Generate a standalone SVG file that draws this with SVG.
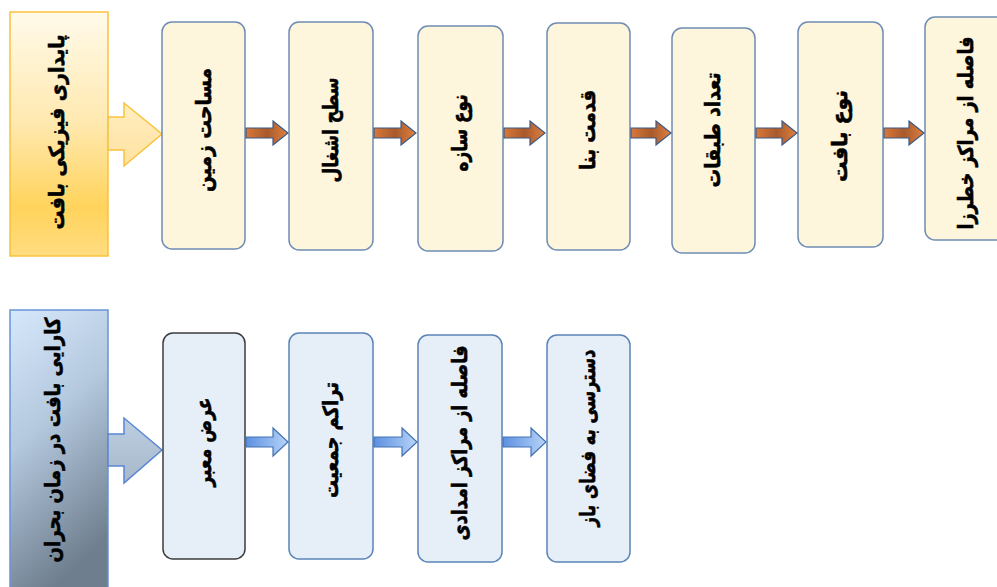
<svg xmlns="http://www.w3.org/2000/svg" width="997" height="587" viewBox="0 0 997 587">
<defs>
<linearGradient id="gY" x1="0" y1="0" x2="0" y2="1">
<stop offset="0" stop-color="#fffaea"/>
<stop offset="0.45" stop-color="#ffe9b0"/>
<stop offset="0.8" stop-color="#ffd35c"/>
<stop offset="1" stop-color="#ffdc80"/>
</linearGradient>
<linearGradient id="gYA" x1="0" y1="0" x2="0" y2="1">
<stop offset="0" stop-color="#ffeec0"/>
<stop offset="1" stop-color="#ffe2a0"/>
</linearGradient>
<linearGradient id="gB" x1="0" y1="0" x2="0.3" y2="1">
<stop offset="0" stop-color="#d6e8fb"/>
<stop offset="0.45" stop-color="#b4c8de"/>
<stop offset="1" stop-color="#6e7e8e"/>
</linearGradient>
<linearGradient id="gBA" x1="0" y1="0" x2="0" y2="1">
<stop offset="0" stop-color="#bccee2"/>
<stop offset="1" stop-color="#a8b8ca"/>
</linearGradient>
<linearGradient id="gO" x1="0" y1="0" x2="1" y2="0">
<stop offset="0" stop-color="#d9783a"/>
<stop offset="0.5" stop-color="#a85a2c"/>
<stop offset="1" stop-color="#e08040"/>
</linearGradient>
<linearGradient id="gL" x1="0" y1="0" x2="1" y2="0">
<stop offset="0" stop-color="#5c90e0"/>
<stop offset="1" stop-color="#b8d4f8"/>
</linearGradient>
</defs>
<style>
.t{font-family:"DejaVu Sans",sans-serif;font-weight:bold;font-size:21px;fill:#000;stroke:#000;stroke-width:0.6;text-anchor:middle;dominant-baseline:central}
.n1 rect{fill:#fdf5dc;stroke:#6f8db4;stroke-width:1.5}
.n2 rect{fill:#e6eef8;stroke:#5a84b8;stroke-width:1.5}
.ao{fill:url(#gO);stroke:#3d5a86;stroke-width:1.2}
.ab{fill:url(#gL);stroke:#4472b4;stroke-width:1.2}
</style>
<rect width="997" height="587" fill="#ffffff"/>

<g id="h1">
<rect x="10" y="12" width="98" height="244" fill="url(#gY)" stroke="#f9c23c" stroke-width="1.5"/>
<path d="M108,117 H124 V103 L162,134 L124,166 V150 H108 Z" fill="url(#gYA)" stroke="#f9c23c" stroke-width="1.5"/>
<text class="t" transform="translate(57,132) rotate(-90)" textLength="195" lengthAdjust="spacingAndGlyphs">پایداری فیزیکی بافت</text>
</g>

<g id="a1" class="n1"><rect x="162" y="22" width="83" height="227" rx="10"/>
<text class="t" transform="translate(204,130) rotate(-90)" textLength="124" lengthAdjust="spacingAndGlyphs">مساحت زمین</text></g>
<g id="a2" class="n1"><rect x="289" y="22" width="84" height="228" rx="10"/>
<text class="t" transform="translate(331,130) rotate(-90)" textLength="105" lengthAdjust="spacingAndGlyphs">سطح اشغال</text></g>
<g id="a3" class="n1"><rect x="418" y="26" width="85" height="225" rx="10"/>
<text class="t" transform="translate(460,133) rotate(-90)" textLength="77" lengthAdjust="spacingAndGlyphs">نوع سازه</text></g>
<g id="a4" class="n1"><rect x="547" y="23" width="83" height="227" rx="10"/>
<text class="t" transform="translate(588,130) rotate(-90)" textLength="80" lengthAdjust="spacingAndGlyphs">قدمت بنا</text></g>
<g id="a5" class="n1"><rect x="672" y="28" width="83" height="225" rx="10"/>
<text class="t" transform="translate(713,130) rotate(-90)" textLength="115" lengthAdjust="spacingAndGlyphs">تعداد طبقات</text></g>
<g id="a6" class="n1"><rect x="798" y="22" width="85" height="225" rx="10"/>
<text class="t" transform="translate(840,136) rotate(-90)" textLength="92" lengthAdjust="spacingAndGlyphs">نوع بافت</text></g>
<g id="a7" class="n1"><rect x="925" y="17" width="90" height="223" rx="10"/>
<text class="t" transform="translate(966,133) rotate(-90)" textLength="193" lengthAdjust="spacingAndGlyphs">فاصله از مراکز خطرزا</text></g>

<g id="h2">
<rect x="10" y="310" width="98" height="290" fill="url(#gB)" stroke="#6a92d8" stroke-width="1.5"/>
<path d="M108,434 H124 V418 L162,450 L124,483 V466 H108 Z" fill="url(#gBA)" stroke="#5a86d4" stroke-width="1.5"/>
<text class="t" transform="translate(53,440) rotate(-90)" textLength="245" lengthAdjust="spacingAndGlyphs">کارایی بافت در زمان بحران</text>
</g>

<g id="b1" class="n2"><rect x="163" y="333" width="82" height="226" rx="10" style="stroke:#3c3c3c"/>
<text class="t" transform="translate(204,442) rotate(-90)" textLength="89" lengthAdjust="spacingAndGlyphs">عرض معبر</text></g>
<g id="b2" class="n2"><rect x="289" y="333" width="84" height="226" rx="10"/>
<text class="t" transform="translate(331,440) rotate(-90)" textLength="116" lengthAdjust="spacingAndGlyphs">تراکم جمعیت</text></g>
<g id="b3" class="n2"><rect x="418" y="335" width="84" height="227" rx="10"/>
<text class="t" transform="translate(460,443) rotate(-90)" textLength="195" lengthAdjust="spacingAndGlyphs">فاصله از مراکز امدادی</text></g>
<g id="b4" class="n2"><rect x="547" y="335" width="83" height="227" rx="10"/>
<text class="t" transform="translate(588,438) rotate(-90)" textLength="177" lengthAdjust="spacingAndGlyphs">دسترسی به فضای باز</text></g>

<g id="connectors">
<path class="ao" d="M246,128 H273 V121 L288,133 L273,145 V138 H246 Z"/>
<path class="ao" d="M374,128 H401 V121 L416,133 L401,145 V138 H374 Z"/>
<path class="ao" d="M504,128 H530 V121 L545,133 L530,145 V138 H504 Z"/>
<path class="ao" d="M631,128 H656 V121 L671,133 L656,145 V138 H631 Z"/>
<path class="ao" d="M756,128 H782 V121 L797,133 L782,145 V138 H756 Z"/>
<path class="ao" d="M884,128 H909 V121 L924,133 L909,145 V138 H884 Z"/>
<path class="ab" d="M246,437 H273 V428 L288,442 L273,456 V447 H246 Z"/>
<path class="ab" d="M374,437 H402 V428 L417,442 L402,456 V447 H374 Z"/>
<path class="ab" d="M503,437 H531 V428 L546,442 L531,456 V447 H503 Z"/>
</g>
</svg>
